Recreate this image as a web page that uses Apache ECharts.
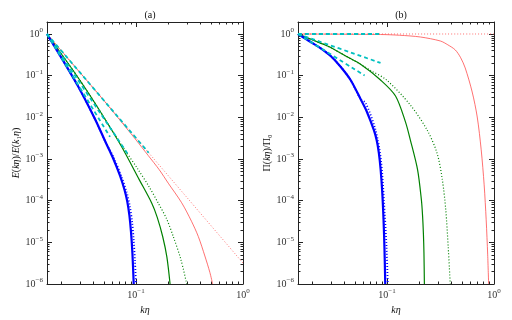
<!DOCTYPE html>
<html>
<head>
<meta charset="utf-8">
<script src="https://cdn.jsdelivr.net/npm/echarts@6/dist/echarts.min.js"></script>
<style>html,body{margin:0;padding:0;background:#fff}#main{width:512px;height:320px}</style>
</head>
<body>
<div id="main"></div>
<script>
//  坐标范围
const kMin = 0.0147, kMax = 1;
const vMin = 1e-6, vMax = 1.94;
const xMajorTicks = [0.1, 1];
const xMinorTicks = [0.02, 0.03, 0.04, 0.05, 0.06, 0.07, 0.08, 0.09, 0.2, 0.3, 0.4, 0.5, 0.6, 0.7, 0.8, 0.9];
const yMajorTicks = [1e-6, 1e-5, 1e-4, 1e-3, 1e-2, 1e-1, 1];

//  (a) E(kη)/E(k1η)
const aRedSolidK = [0.0147, 0.02, 0.03, 0.05, 0.08, 0.1, 0.13, 0.165, 0.2, 0.267, 0.33, 0.382, 0.44, 0.49, 0.52];
const aRedSolidV = [1, 0.397, 0.1177, 0.0254, 5.8e-3, 2.86e-3, 1.21e-3, 5.5e-4, 2.63e-4, 8.9e-5, 3.2e-5, 1.38e-5, 4.7e-6, 1.9e-6, 1e-6];
const aRedDotK = [0.0147, 0.03, 0.1, 0.3, 1];
const aRedDotV = [1, 0.1177, 3.18e-3, 1.18e-4, 3.18e-6];
const aGreenSolidK = [0.0147, 0.0262, 0.037, 0.0513, 0.0738, 0.1074, 0.1403, 0.1578, 0.1774, 0.1941, 0.208];
const aGreenSolidV = [1, 0.126, 0.0339, 9.0e-3, 1.91e-3, 3.16e-4, 8.7e-5, 3.98e-5, 1.38e-5, 4.47e-6, 1e-6];
const aGreenDotK = [0.0147, 0.0262, 0.037, 0.0513, 0.0738, 0.105, 0.1312, 0.1614, 0.1941, 0.2228, 0.2618, 0.2979];
const aGreenDotV = [1, 0.126, 0.0339, 9.0e-3, 2.09e-3, 5.5e-4, 2.24e-4, 8.7e-5, 3.55e-5, 1.38e-5, 3.98e-6, 1e-6];
const aBlueSolidK = [0.0147, 0.0208, 0.0293, 0.0414, 0.0522, 0.0614, 0.0708, 0.0782, 0.0828, 0.0867, 0.0897, 0.0925, 0.0951];
const aBlueSolidV = [1, 0.229, 0.0507, 9.0e-3, 2.45e-3, 1e-3, 3.98e-4, 1.78e-4, 9.5e-5, 4.37e-5, 1.78e-5, 5.4e-6, 1e-6];
const aBlueDotK = [0.0147, 0.0208, 0.0293, 0.0414, 0.0522, 0.0614, 0.0738, 0.0818, 0.0877, 0.0918, 0.0951, 0.0977, 0.1];
const aBlueDotV = [1, 0.229, 0.0507, 9.0e-3, 2.45e-3, 1.12e-3, 3.55e-4, 1.58e-4, 7.1e-5, 3.16e-5, 1.12e-5, 3.55e-6, 1e-6];
//  拟合线
const aFitRedK = [0.0147, 0.1312], aFitRedV = [1, 1.41e-3];
const aFitGreenK = [0.0147, 0.0847], aFitGreenV = [1, 1.26e-3];
const aFitBlueK = [0.0147, 0.0571], aFitBlueV = [1, 3.39e-3];

//  (b) Π(kη)/Π0
const bRedSolidK = [0.0147, 0.0869, 0.131, 0.205, 0.315, 0.37, 0.435, 0.488, 0.538, 0.625, 0.697, 0.759, 0.809, 0.845, 0.873, 0.891];
const bRedSolidV = [1, 0.972, 0.933, 0.847, 0.679, 0.55, 0.413, 0.269, 0.153, 0.0407, 0.0102, 1.66e-3, 2.4e-4, 3.47e-5, 5.0e-6, 1e-6];
const bRedDotK = [0.0147, 1];
const bRedDotV = [1, 1];
const bGreenSolidK = [0.0147, 0.0202, 0.0281, 0.041, 0.0574, 0.0869, 0.12, 0.1486, 0.165, 0.193, 0.2094, 0.2148, 0.2188, 0.2213, 0.2234];
const bGreenSolidV = [1, 0.718, 0.507, 0.297, 0.1836, 0.0788, 0.0326, 7.76e-3, 2.88e-3, 5.5e-4, 1.05e-4, 4.37e-5, 1.58e-5, 5.6e-6, 1e-6];
const bGreenDotK = [0.0147, 0.0202, 0.0281, 0.041, 0.0574, 0.0702, 0.0989, 0.165, 0.2366, 0.293, 0.329, 0.354, 0.373, 0.39];
const bGreenDotV = [1, 0.718, 0.507, 0.297, 0.1836, 0.133, 0.0788, 0.0198, 4.99e-3, 1.4e-3, 3.16e-4, 6.0e-5, 7.8e-6, 1e-6];
const bBlueSolidK = [0.0147, 0.0193, 0.024, 0.0297, 0.0368, 0.0456, 0.0565, 0.0643, 0.0752, 0.08, 0.0838, 0.0871, 0.0902, 0.0927, 0.0946, 0.0962];
const bBlueSolidV = [1, 0.643, 0.454, 0.297, 0.164, 0.0788, 0.0276, 0.0142, 4.99e-3, 2.82e-3, 1.41e-3, 5.6e-4, 1.58e-4, 3.55e-5, 7.1e-6, 1e-6];
const bBlueDotK = [0.0147, 0.0193, 0.024, 0.0297, 0.0368, 0.0456, 0.0565, 0.063, 0.078, 0.0877, 0.0935, 0.0989, 0.1016];
const bBlueDotV = [1, 0.643, 0.454, 0.297, 0.164, 0.0788, 0.0276, 0.0221, 5.0e-3, 9.5e-4, 1.05e-4, 7.8e-6, 1e-6];
const bFitFlatK = [0.0147, 0.0855], bFitFlatV = [1, 1];
const bFitUpK = [0.0147, 0.0869], bFitUpV = [1, 0.202];
const bFitLowK = [0.0147, 0.0617], bFitLowV = [1, 0.101];

const lg = Math.log10;
const yMinorTicks = [];
for (let e = -6; e < 0; e++) {
    for (let m = 2; m < 10; m++) yMinorTicks.push(m * Math.pow(10, e));
}

const font = 'Liberation Serif';
const frame = {color: '#222', width: 1};
const rich = {
    b: {fontSize: 10, fontFamily: font, color: '#333'},
    s: {fontSize: 7, fontFamily: font, color: '#333', padding: [0, 0, 7, 0]},
    i: {fontSize: 10, fontFamily: font, fontStyle: 'italic', color: '#111'},
    n: {fontSize: 10, fontFamily: font, color: '#111'},
};
const powLabel = function (v) {
    const e = Math.round(v);
    return '{b|10}{s|' + (e < 0 ? '\u2212' + (-e) : e) + '}';
};

//  一个子图的四条 x 轴: 下主/下次/上主/上次
function makeXAxes(grid) {
    const base = {
        type: 'value', gridIndex: grid, min: lg(kMin), max: lg(kMax),
        splitLine: {show: false},
        axisLine: {show: false, onZero: false},
    };
    return [
        Object.assign({}, base, {
            position: 'bottom',
            axisLine: {show: true, onZero: false, lineStyle: frame},
            axisTick: {inside: true, length: 5, customValues: xMajorTicks.map(lg), lineStyle: frame},
            axisLabel: {customValues: xMajorTicks.map(lg), formatter: powLabel, rich: rich, margin: 4},
            name: '{i|k\u03b7}', nameLocation: 'middle', nameGap: 14,
            nameTextStyle: {rich: rich},
        }),
        Object.assign({}, base, {
            position: 'bottom',
            axisTick: {inside: true, length: 2.5, customValues: xMinorTicks.map(lg), lineStyle: frame},
            axisLabel: {show: false},
        }),
        Object.assign({}, base, {
            position: 'top',
            axisLine: {show: true, onZero: false, lineStyle: frame},
            axisTick: {inside: true, length: 5, customValues: xMajorTicks.map(lg), lineStyle: frame},
            axisLabel: {show: false},
        }),
        Object.assign({}, base, {
            position: 'top',
            axisTick: {inside: true, length: 2.5, customValues: xMinorTicks.map(lg), lineStyle: frame},
            axisLabel: {show: false},
        }),
    ];
}

function makeYAxes(grid, name) {
    const base = {
        type: 'value', gridIndex: grid, min: lg(vMin), max: lg(vMax),
        splitLine: {show: false},
        axisLine: {show: false, onZero: false},
    };
    return [
        Object.assign({}, base, {
            position: 'left',
            axisLine: {show: true, onZero: false, lineStyle: frame},
            axisTick: {inside: true, length: 5, customValues: yMajorTicks.map(lg), lineStyle: frame},
            axisLabel: {customValues: yMajorTicks.map(lg), formatter: powLabel, rich: rich, margin: 4},
            name: name, nameLocation: 'middle', nameGap: 23,
            nameTextStyle: {rich: rich},
        }),
        Object.assign({}, base, {
            position: 'left',
            axisTick: {inside: true, length: 2.5, customValues: yMinorTicks.map(lg), lineStyle: frame},
            axisLabel: {show: false},
        }),
        Object.assign({}, base, {
            position: 'right',
            axisLine: {show: true, onZero: false, lineStyle: frame},
            axisTick: {inside: true, length: 5, customValues: yMajorTicks.map(lg), lineStyle: frame},
            axisLabel: {show: false},
        }),
        Object.assign({}, base, {
            position: 'right',
            axisTick: {inside: true, length: 2.5, customValues: yMinorTicks.map(lg), lineStyle: frame},
            axisLabel: {show: false},
        }),
    ];
}

function line(grid, ks, vs, color, width, type) {
    return {
        type: 'line',
        xAxisIndex: grid * 4,
        yAxisIndex: grid * 4,
        data: ks.map((k, i) => [lg(k), lg(vs[i])]),
        showSymbol: false,
        smooth: 0.3,
        lineStyle: {color: color, width: width, type: type},
        silent: true,
    };
}

const red = '#ff4d4d', green = '#008000', blue = '#0000ff', cyan = '#00c0c0';
const dot = [1, 2], dash = [4, 3];

const myChart = echarts.init(document.getElementById('main'), null, {renderer: 'canvas'});
myChart.setOption({
    animation: false,
    backgroundColor: '#fff',
    title: [
        {text: '(a)', left: 145, top: 5, textAlign: 'center', textStyle: {fontSize: 10, fontWeight: 'normal', fontFamily: font, color: '#111'}},
        {text: '(b)', left: 396, top: 5, textAlign: 'center', textStyle: {fontSize: 10, fontWeight: 'normal', fontFamily: font, color: '#111'}},
    ],
    grid: [
        {left: 47, top: 22, width: 196, height: 262},
        {left: 298, top: 22, width: 196, height: 262},
    ],
    xAxis: makeXAxes(0).concat(makeXAxes(1)),
    yAxis: makeYAxes(0, '{i|E}{n|(}{i|k\u03b7}{n|)/}{i|E}{n|(}{i|k}{n|\u2081}{i|\u03b7}{n|)}')
        .concat(makeYAxes(1, '{n|\u03a0(}{i|k\u03b7}{n|)/\u03a0\u2080}')),
    series: [
        line(0, aRedSolidK, aRedSolidV, red, 0.8, 'solid'),
        line(0, aRedDotK, aRedDotV, red, 0.8, dot),
        line(0, aGreenSolidK, aGreenSolidV, green, 1.2, 'solid'),
        line(0, aGreenDotK, aGreenDotV, green, 1.2, dot),
        line(0, aBlueSolidK, aBlueSolidV, blue, 2.2, 'solid'),
        line(0, aBlueDotK, aBlueDotV, blue, 1.8, dot),
        line(0, aFitRedK, aFitRedV, cyan, 1.8, dash),
        line(0, aFitGreenK, aFitGreenV, cyan, 1.8, dash),
        line(0, aFitBlueK, aFitBlueV, cyan, 1.8, dash),

        line(1, bRedSolidK, bRedSolidV, red, 0.8, 'solid'),
        line(1, bRedDotK, bRedDotV, red, 0.8, dot),
        line(1, bGreenSolidK, bGreenSolidV, green, 1.2, 'solid'),
        line(1, bGreenDotK, bGreenDotV, green, 1.2, dot),
        line(1, bBlueSolidK, bBlueSolidV, blue, 2.2, 'solid'),
        line(1, bBlueDotK, bBlueDotV, blue, 1.8, dot),
        line(1, bFitFlatK, bFitFlatV, cyan, 1.8, dash),
        line(1, bFitUpK, bFitUpV, cyan, 1.8, dash),
        line(1, bFitLowK, bFitLowV, cyan, 1.8, dash),
    ],
});
</script>
</body>
</html>
